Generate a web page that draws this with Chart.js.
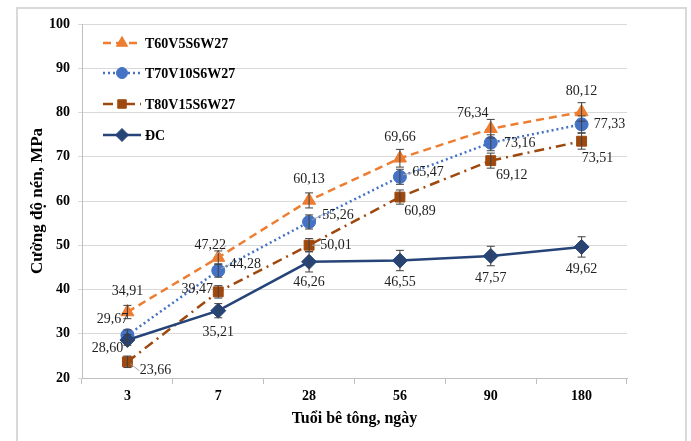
<!DOCTYPE html>
<html>
<head>
<meta charset="utf-8">
<script src="https://cdn.jsdelivr.net/npm/chart.js@4/dist/chart.umd.min.js"></script>
<style>
  html, body { margin: 0; padding: 0; background: #fff; }
  #wrap { width: 691px; height: 441px; position: relative; }
</style>
</head>
<body>
<div id="wrap"><canvas id="chart"></canvas></div>
<script>
// Dữ liệu biểu đồ
const ages = ['3', '7', '28', '56', '90', '180'];
const seriesNames = ['T60V5S6W27', 'T70V10S6W27', 'T80V15S6W27', 'ĐC'];
const t60 = [34.91, 47.22, 60.13, 69.66, 76.34, 80.12];
const t70 = [29.67, 44.28, 55.26, 65.47, 73.16, 77.33];
const t80 = [23.66, 39.47, 50.01, 60.89, 69.12, 73.51];
const dc = [28.60, 35.21, 46.26, 46.55, 47.57, 49.62];
// Sai số (ước lượng từ hình)
const t60Err = [1.5, 1.5, 1.7, 2.0, 2.1, 2.1];
const t70Err = [1.2, 1.5, 1.6, 1.7, 1.8, 1.9];
const t80Err = [1.3, 1.4, 1.5, 1.6, 1.7, 1.8];
const dcErr = [1.2, 1.6, 2.3, 2.3, 2.2, 2.3];
const yTicks = [20, 30, 40, 50, 60, 70, 80, 90, 100];

const FONT = '"Liberation Serif", "Times New Roman", serif';

// Vị trí nhãn dữ liệu so với điểm (px)
const labelOffsets = [
    [[0, -21], [-8, -12], [0, -21], [0, -21], [-18, -15], [0, -21]],
    [[-15, -16], [27, -6], [29, -7], [28, -4], [29, 1], [28, 0]],
    [[28, 9], [-21, -3], [27, 0], [20, 14], [21, 15], [16, 17]],
    [[-20, 8], [0, 22], [0, 21], [0, 22], [0, 22], [0, 22]]
];
// Nhãn có đường dẫn nhỏ màu xám
const leaders = [[0, 1], [1, 1], [1, 2], [1, 3], [2, 0], [2, 2]];

const styles = [
    { color: '#ED7D31', dash: [8, 5], point: 'triangle', radius: 7.5 },
    { color: '#4472C4', dash: [2, 3], point: 'circle', radius: 6.5 },
    { color: '#9E480E', dash: [10, 5, 2, 5], point: 'rect', radius: 7 },
    { color: '#264478', dash: [], point: 'rectRot', radius: 7.5 }
];

const values = [t60, t70, t80, dc];
const errors = [t60Err, t70Err, t80Err, dcErr];

// Khung ngoài
const framePlugin = {
    id: 'frame',
    beforeDraw(chart) {
        const ctx = chart.ctx;
        ctx.save();
        ctx.fillStyle = '#fff';
        ctx.fillRect(0, 0, chart.width, chart.height);
        ctx.strokeStyle = '#d9d9d9';
        ctx.lineWidth = 2;
        ctx.beginPath();
        ctx.moveTo(17, chart.height + 5);
        ctx.lineTo(17, 8);
        ctx.lineTo(686, 8);
        ctx.lineTo(686, chart.height + 5);
        ctx.stroke();
        ctx.restore();
    }
};

// Thanh sai số
const errorBarPlugin = {
    id: 'errorBars',
    afterDatasetsDraw(chart) {
        const ctx = chart.ctx;
        const yScale = chart.scales.y;
        ctx.save();
        ctx.strokeStyle = '#404040';
        ctx.lineWidth = 1;
        chart.data.datasets.forEach((ds, i) => {
            const meta = chart.getDatasetMeta(i);
            meta.data.forEach((pt, j) => {
                const v = ds.data[j];
                const e = errors[i][j];
                const yTop = yScale.getPixelForValue(v + e);
                const yBot = yScale.getPixelForValue(v - e);
                const x = pt.x;
                ctx.beginPath();
                ctx.moveTo(x, yTop); ctx.lineTo(x, yBot);
                ctx.moveTo(x - 4, yTop); ctx.lineTo(x + 4, yTop);
                ctx.moveTo(x - 4, yBot); ctx.lineTo(x + 4, yBot);
                ctx.stroke();
            });
        });
        ctx.restore();
    }
};

// Nhãn dữ liệu
const dataLabelPlugin = {
    id: 'dataLabels',
    afterDatasetsDraw(chart) {
        const ctx = chart.ctx;
        ctx.save();
        // đường dẫn
        ctx.strokeStyle = '#a6a6a6';
        ctx.lineWidth = 1;
        leaders.forEach(([i, j]) => {
            const pt = chart.getDatasetMeta(i).data[j];
            const off = labelOffsets[i][j];
            const dir = off[0] > 0 ? 1 : -1;
            const lx = pt.x + off[0] - dir * 16;
            ctx.beginPath();
            ctx.moveTo(pt.x + dir * 3, pt.y + Math.sign(off[1]) * 2);
            ctx.lineTo(lx, pt.y + off[1]);
            ctx.stroke();
        });
        ctx.font = '14px ' + FONT;
        ctx.fillStyle = '#222';
        ctx.textAlign = 'center';
        ctx.textBaseline = 'middle';
        chart.data.datasets.forEach((ds, i) => {
            const meta = chart.getDatasetMeta(i);
            meta.data.forEach((pt, j) => {
                const off = labelOffsets[i][j];
                const txt = ds.data[j].toFixed(2).replace('.', ',');
                ctx.fillText(txt, pt.x + off[0], pt.y + off[1]);
            });
        });
        ctx.restore();
    }
};

// Chú thích nằm trong vùng vẽ
const legendPlugin = {
    id: 'innerLegend',
    afterDraw(chart) {
        const ctx = chart.ctx;
        const rows = [43, 73, 104, 135];
        ctx.save();
        seriesNames.forEach((name, i) => {
            const st = styles[i];
            const y = rows[i];
            ctx.strokeStyle = st.color;
            ctx.lineWidth = 2.5;
            ctx.setLineDash(st.dash);
            ctx.beginPath();
            ctx.moveTo(103, y);
            ctx.lineTo(141, y);
            ctx.stroke();
            ctx.setLineDash([]);
            ctx.fillStyle = st.color;
            ctx.lineWidth = 1;
            Chart.helpers.drawPoint(ctx, {
                pointStyle: st.point,
                radius: st.radius - 1,
                borderWidth: 1,
                rotation: 0
            }, 122, y);
            ctx.fillStyle = '#000';
            ctx.font = 'bold 14px ' + FONT;
            ctx.textAlign = 'left';
            ctx.textBaseline = 'middle';
            ctx.fillText(name, 145, y + 1);
        });
        ctx.restore();
    }
};

const datasets = seriesNames.map((name, i) => ({
    label: name,
    data: values[i],
    borderColor: styles[i].color,
    backgroundColor: styles[i].color,
    borderWidth: 2.5,
    borderDash: styles[i].dash,
    pointStyle: styles[i].point,
    pointRadius: styles[i].radius,
    pointBackgroundColor: styles[i].color,
    pointBorderColor: styles[i].color,
    pointBorderWidth: 1,
    tension: 0,
    fill: false,
    order: [4, 3, 2, 1][i]
}));

new Chart(document.getElementById('chart'), {
    type: 'line',
    data: { labels: ages, datasets: datasets },
    plugins: [framePlugin, errorBarPlugin, dataLabelPlugin, legendPlugin],
    options: {
        responsive: true,
        maintainAspectRatio: false,
        animation: false,
        layout: { padding: { left: 16, right: 64, top: 24, bottom: 0 } },
        plugins: { legend: { display: false }, tooltip: { enabled: false } },
        scales: {
            x: {
                offset: true,
                grid: {
                    offset: true,
                    drawOnChartArea: false,
                    drawTicks: true,
                    tickLength: 6,
                    color: '#bfbfbf'
                },
                border: { color: '#bfbfbf', width: 1 },
                ticks: {
                    color: '#000',
                    padding: 4,
                    font: { family: FONT, size: 14, weight: 'bold' }
                },
                title: {
                    display: true,
                    text: 'Tuổi bê tông, ngày',
                    color: '#000',
                    padding: { top: 4, bottom: 13 },
                    font: { family: FONT, size: 16, weight: 'bold' }
                },
                afterFit(scale) { scale.height = 63; }
            },
            y: {
                min: 20,
                max: 100,
                afterBuildTicks(scale) {
                    scale.ticks = yTicks.map(v => ({ value: v }));
                },
                grid: {
                    color: '#d9d9d9',
                    lineWidth: 1,
                    drawTicks: true,
                    tickLength: 4
                },
                border: { color: '#bfbfbf', width: 1 },
                ticks: {
                    color: '#000',
                    padding: 8,
                    font: { family: FONT, size: 14, weight: 'bold' }
                },
                title: {
                    display: true,
                    text: 'Cường độ nén, MPa',
                    color: '#000',
                    padding: { top: 11, bottom: 0 },
                    font: { family: FONT, size: 17, weight: 'bold' }
                },
                afterFit(scale) { scale.width = 66; }
            }
        }
    }
});
</script>
</body>
</html>
